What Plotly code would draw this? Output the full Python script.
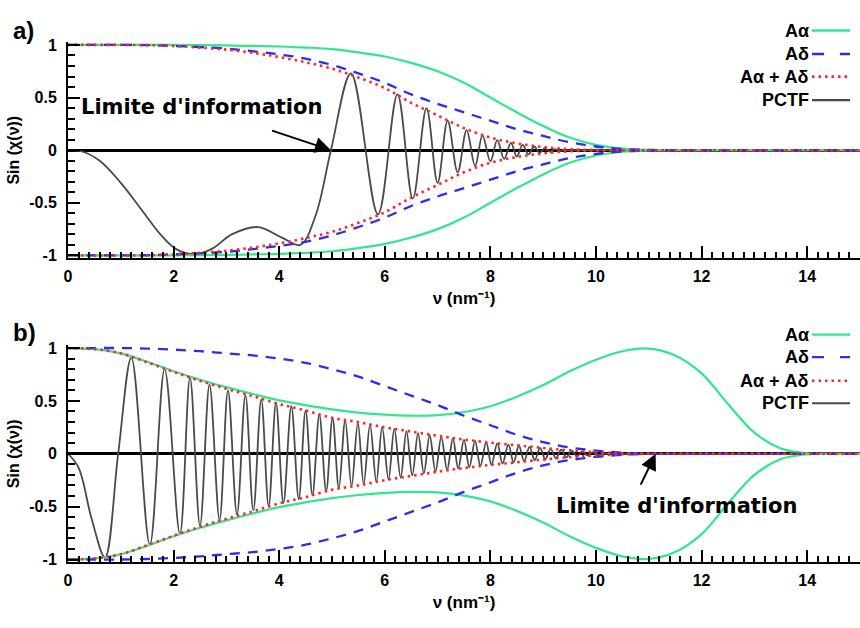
import plotly.graph_objects as go

# ---------------- data ----------------
nu_grid = [0, 0.5, 1, 1.5, 2, 2.5, 3, 3.5, 4, 4.5, 5, 5.5, 6, 6.5, 7, 7.5,
           8, 8.5, 9, 9.5, 10, 10.5, 11, 11.5, 12, 12.5, 13, 13.5, 14, 14.5, 15]

# panel a) envelopes (upper halves; the lower halves are their mirror images)
a_alpha_a = [1, 1, 1, 1, 1, 0.998, 0.995, 0.99, 0.985, 0.975, 0.96, 0.93, 0.89, 0.83, 0.75, 0.64,
             0.5, 0.36, 0.23, 0.12, 0.05, 0.015, 0.003, 0, 0, 0, 0, 0, 0, 0, 0]
a_delta_a = [1, 1, 1, 0.998, 0.99, 0.98, 0.965, 0.94, 0.91, 0.87, 0.81, 0.73, 0.64, 0.53, 0.44, 0.36,
             0.28, 0.2, 0.135, 0.075, 0.035, 0.012, 0.003, 0, 0, 0, 0, 0, 0, 0, 0]
a_sum_a = [1, 1, 1, 0.998, 0.99, 0.975, 0.955, 0.925, 0.885, 0.835, 0.775, 0.69, 0.59, 0.45, 0.33, 0.21,
           0.12, 0.065, 0.03, 0.01, 0.002, 0, 0, 0, 0, 0, 0, 0, 0, 0, 0]

# panel a) PCTF, read at its extrema and a few intermediate points
pctf_a_nu = [0, 0.25, 0.6, 1.0, 1.4, 1.75, 2.05, 2.4, 2.75, 3.1,
             3.6, 4.05, 4.4, 4.69, 4.98, 5.36, 5.87, 6.24, 6.53, 6.79,
             7.0, 7.19, 7.38, 7.55, 7.71, 7.85, 8.0, 8.13, 8.26, 8.39,
             8.5, 8.61, 8.72, 8.83, 8.93, 9.03, 9.13, 9.22, 9.31, 9.4,
             9.5, 9.6, 10.0, 15.0]
pctf_a = [0, -0.01, -0.1, -0.31, -0.57, -0.8, -0.94, -0.99, -0.93, -0.8,
          -0.73, -0.83, -0.9, -0.62, 0, 0.73, -0.61, 0.53, -0.46, 0.40,
          -0.31, 0.28, -0.21, 0.19, -0.15, 0.14, -0.105, 0.095, -0.083, 0.07,
          -0.06, 0.05, -0.04, 0.035, -0.025, 0.02, -0.015, 0.01, -0.007, 0.004,
          -0.002, 0, 0, 0]

# panel b) envelopes
a_alpha_b = [1, 0.99, 0.95, 0.87, 0.78, 0.70, 0.63, 0.565, 0.505, 0.46, 0.42, 0.39, 0.37, 0.36, 0.365, 0.395,
             0.45, 0.54, 0.65, 0.78, 0.89, 0.97, 0.995, 0.93, 0.76, 0.47, 0.2, 0.05, 0.005, 0, 0]
a_delta_b = [1, 1, 1, 0.995, 0.985, 0.97, 0.95, 0.93, 0.9, 0.86, 0.8, 0.73, 0.64, 0.55, 0.46, 0.36,
             0.27, 0.18, 0.11, 0.06, 0.03, 0.01, 0, 0, 0, 0, 0, 0, 0, 0, 0]
a_sum_b = [1, 0.99, 0.95, 0.865, 0.775, 0.69, 0.615, 0.545, 0.47, 0.41, 0.34, 0.3, 0.25, 0.21, 0.17, 0.135,
           0.105, 0.08, 0.055, 0.032, 0.015, 0.005, 0, 0, 0, 0, 0, 0, 0, 0, 0]

# panel b) PCTF extrema
pctf_b_nu = [0, 0.2, 0.45, 0.7, 0.95, 1.2, 1.55, 1.83, 2.12, 2.31,
             2.5, 2.68, 2.87, 3.03, 3.2, 3.36, 3.51, 3.66, 3.8, 3.94,
             4.08, 4.23, 4.37, 4.5, 4.63, 4.76, 4.89, 5.01, 5.13, 5.25,
             5.37, 5.49, 5.6, 5.72, 5.84, 5.95, 6.07, 6.18, 6.3, 6.41,
             6.52, 6.63, 6.74, 6.85, 6.96, 7.07, 7.18, 7.29, 7.39, 7.5,
             7.6, 7.71, 7.81, 7.92, 8.02, 8.13, 8.23, 8.34, 8.44, 8.54,
             8.64, 8.74, 8.84, 8.94, 9.04, 9.14, 9.24, 9.34, 9.44, 9.54,
             9.64, 9.74, 9.84, 9.94, 10.04, 10.14, 10.24, 10.34, 10.5, 15.0]
pctf_b = [0, -0.13, -0.62, -0.98, 0, 0.91, -0.86, 0.80, -0.76, 0.72,
          -0.68, 0.655, -0.625, 0.60, -0.575, 0.555, -0.535, 0.515, -0.495, 0.48,
          -0.465, 0.45, -0.43, 0.41, -0.39, 0.37, -0.355, 0.34, -0.325, 0.315,
          -0.305, 0.295, -0.285, 0.275, -0.265, 0.255, -0.245, 0.235, -0.225, 0.215,
          -0.205, 0.195, -0.185, 0.175, -0.168, 0.16, -0.153, 0.146, -0.14, 0.134,
          -0.128, 0.122, -0.116, 0.11, -0.104, 0.098, -0.092, 0.086, -0.081, 0.076,
          -0.071, 0.066, -0.061, 0.056, -0.051, 0.046, -0.042, 0.038, -0.034, 0.03,
          -0.026, 0.022, -0.018, 0.015, -0.012, 0.009, -0.006, 0.003, 0, 0]

x_ticks = [0, 2, 4, 6, 8, 10, 12, 14]
y_ticks = [-1, -0.5, 0, 0.5, 1]
y_ticktext = ["-1", "-0.5", "0", "0.5", "1"]
legend_names = ["A\u03b1", "A\u03b4", "A\u03b1 + A\u03b4", "PCTF"]
x_title = "\u03bd (nm\u207b\u00b9)"
y_title = "Sin (\u03c7(\u03bd))"

# ---------------- styles ----------------
FONT = "Arial, Liberation Sans, sans-serif"
WIDEFONT = "DejaVu Sans, Arial, sans-serif"
GREEN = "#2fe88c"
BLUE = "#2d2df0"
RED = "#ff2626"
GREY = "#4a4a4a"

fig = go.Figure()

def add_panel(xa, ya, pnu, pv, alpha, delta, ssum):
    fig.add_trace(go.Scatter(x=pnu, y=pv, xaxis=xa, yaxis=ya, mode="lines",
                             line=dict(color=GREY, width=1.8, shape="spline", smoothing=1.0)))
    for arr, col, dash, w in [(alpha, GREEN, "solid", 2.2),
                              (delta, BLUE, "10px,8px", 2.3),
                              (ssum, RED, "2.5px,4px", 2.6)]:
        for sgn in (1, -1):
            fig.add_trace(go.Scatter(x=nu_grid, y=[sgn * v for v in arr], xaxis=xa, yaxis=ya,
                                     mode="lines",
                                     line=dict(color=col, width=w, dash=dash, shape="spline", smoothing=1.0)))

add_panel("x", "y", pctf_a_nu, pctf_a, a_alpha_a, a_delta_a, a_sum_a)
add_panel("x2", "y2", pctf_b_nu, pctf_b, a_alpha_b, a_delta_b, a_sum_b)

W, H = 860, 628
L = 68
PW = W - L

def px_x(p):
    return (p - L) / PW

def px_y(p):
    return 1 - p / H

tickfont = dict(family=FONT, size=16, color="black", weight="bold")

def xaxis_cfg(anchor):
    return dict(domain=[0, 1], range=[0, 15], anchor=anchor, showline=True, linecolor="black",
                linewidth=2, ticks="inside", ticklen=12, tickwidth=2, tickcolor="black",
                tickvals=x_ticks, tickfont=tickfont, showgrid=False, zeroline=False,
                ticklabelstandoff=3,
                title=dict(text=x_title, standoff=8,
                           font=dict(family=FONT, size=17, color="black", weight="bold")),
                minor=dict(ticks="inside", ticklen=6, tickwidth=1.6, tickcolor="black",
                           dtick=0.2, tick0=0, showgrid=False))

def yaxis_cfg(domain, anchor):
    return dict(domain=domain, range=[-1.025, 1.025], anchor=anchor, showline=True, linecolor="black",
                linewidth=2, ticks="inside", ticklen=12, tickwidth=2, tickcolor="black",
                tickvals=y_ticks, ticktext=y_ticktext, tickfont=tickfont, showgrid=False,
                zeroline=True, zerolinecolor="black", zerolinewidth=2.5,
                ticklabelstandoff=6,
                title=dict(text=y_title, standoff=6,
                           font=dict(family=FONT, size=16, color="black", weight="bold")),
                minor=dict(ticks="inside", ticklen=7, tickwidth=1.6, tickcolor="black",
                           dtick=0.1, tick0=0, showgrid=False))

top_dom = [px_y(257), px_y(37)]
bot_dom = [px_y(567), px_y(346)]

annotations = []
shapes = []

for (yb, lbl_y, leg_ys) in [
        (0, 25, [25, 49, 72, 96]),
        (1, 333, [335, 358, 382, 405])]:
    # panel label
    annotations.append(dict(text="a)" if yb == 0 else "b)", xref="paper", yref="paper",
                            x=px_x(11), y=px_y(lbl_y), xanchor="left", yanchor="middle",
                            showarrow=False, font=dict(family=FONT, size=24, color="black", weight="bold")))
    # legend
    styles = [(GREEN, "solid", 2.4), (BLUE, "12px,16px", 2.4), (RED, "2.5px,4px", 2.6), (GREY, "solid", 2.2)]
    for name, ly, (col, dash, w) in zip(legend_names, leg_ys, styles):
        annotations.append(dict(text=name, xref="paper", yref="paper", x=px_x(811), y=px_y(ly),
                                xanchor="right", yanchor="middle", showarrow=False,
                                font=dict(family=FONT, size=18, color="black", weight="bold")))
        shapes.append(dict(type="line", xref="paper", yref="paper", x0=px_x(812), x1=px_x(850),
                           y0=px_y(ly), y1=px_y(ly), line=dict(color=col, width=w, dash=dash)))

bigfont = dict(family=WIDEFONT, size=21, color="black", weight="bold")
# "Limite d'information" labels + arrows
annotations += [
    # top: the arrow starts from the label itself
    dict(text="Limite d'information", xref="x", yref="y", x=4.98, y=0.0,
         axref="x", ayref="y", ax=2.52, ay=0.41, showarrow=True,
         arrowhead=2, arrowsize=1.6, arrowwidth=2, arrowcolor="black", startstandoff=32,
         font=bigfont),
    # bottom label
    dict(text="Limite d'information", xref="x2", yref="y2", x=11.53, y=-0.49, showarrow=False,
         xanchor="center", yanchor="middle", font=bigfont),
    dict(text="\u00a0", xref="x2", yref="y2", x=11.13, y=0.0, axref="x2", ayref="y2", ax=10.81, ay=-0.33,
         showarrow=True, arrowhead=2, arrowsize=1.6, arrowwidth=2, arrowcolor="black",
         font=dict(family=FONT, size=4, color="rgba(0,0,0,0)")),
]

fig.update_layout(
    width=W, height=H, margin=dict(l=L, r=0, t=0, b=0),
    paper_bgcolor="white", plot_bgcolor="white", showlegend=False,
    xaxis=xaxis_cfg("y"), yaxis=yaxis_cfg(top_dom, "x"),
    xaxis2=xaxis_cfg("y2"), yaxis2=yaxis_cfg(bot_dom, "x2"),
    annotations=annotations, shapes=shapes,
)

fig.write_html("out.html")
